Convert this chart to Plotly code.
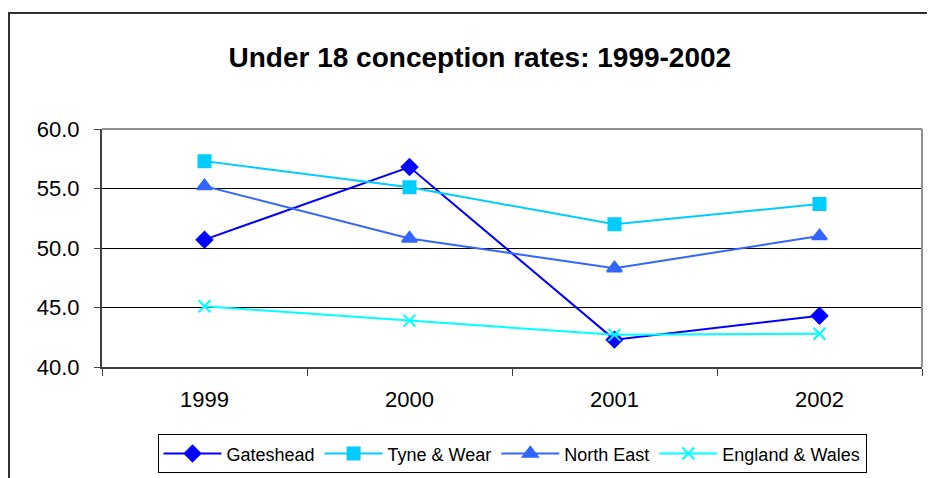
import plotly.graph_objects as go

years = ["1999", "2000", "2001", "2002"]
gateshead = [50.7, 56.8, 42.3, 44.3]
tyne_wear = [57.3, 55.1, 52.0, 53.7]
north_east = [55.2, 50.8, 48.3, 51.0]
england_wales = [45.1, 43.9, 42.7, 42.8]

series = [
    ("Gateshead", gateshead, "#0000FF", "diamond", 12),
    ("Tyne & Wear", tyne_wear, "#00CCFF", "square", 12),
    ("North East", north_east, "#3366FF", "triangle-up", 13),
    ("England & Wales", england_wales, "#00FFFF", "x-thin", 12),
]

fig = go.Figure()
for name, vals, color, sym, size in series:
    fig.add_trace(go.Scatter(
        x=years, y=vals, name=name, mode="lines+markers",
        line=dict(color=color, width=2),
        marker=dict(symbol=sym, size=size, color=color,
                    line=dict(color=color, width=2)),
    ))

# page body has an 8px margin, so the figure is 8px smaller and shifted
fig.update_layout(
    width=927, height=470,
    margin=dict(l=94, r=13, t=121, b=111),
    paper_bgcolor="white", plot_bgcolor="white",
    font=dict(family="Liberation Sans, Arial, sans-serif", color="black"),
    title=dict(text="<b>Under 18 conception rates: 1999-2002</b>",
               font=dict(size=28, color="black"),
               x=0.509, xanchor="center", y=0.896, yanchor="middle"),
    showlegend=True,
    legend=dict(orientation="h", x=0.5, xanchor="center",
                yref="container", y=0.093, yanchor="top",
                bordercolor="black", borderwidth=1, font=dict(size=18),
                itemwidth=58, tracegroupgap=0),
    xaxis=dict(type="category", tickson="boundaries", showgrid=False,
               ticks="outside", ticklen=7, tickcolor="#404040",
               showline=True, linecolor="#404040", linewidth=2,
               tickfont=dict(size=22), range=[-0.5, 3.5],
               ticklabelstandoff=12, automargin=False),
    yaxis=dict(range=[40, 60], dtick=5, tickformat=".1f",
               showgrid=True, gridcolor="black", gridwidth=1,
               ticks="outside", ticklen=6, tickcolor="#404040",
               showline=True, linecolor="#404040", linewidth=2,
               tickfont=dict(size=22), zeroline=False,
               ticklabelstandoff=10, automargin=False),
    shapes=[
        dict(type="line", xref="paper", yref="paper", x0=0, x1=1, y0=1, y1=1,
             line=dict(color="#909090", width=2)),
        dict(type="line", xref="paper", yref="paper", x0=1, x1=1, y0=0, y1=1,
             line=dict(color="#909090", width=2)),
        dict(type="rect", xref="paper", yref="paper", x0=-0.1134, x1=1.2,
             y0=-0.6, y1=1.487, line=dict(color="#303030", width=2)),
    ],
)

fig.write_html("out.html")
